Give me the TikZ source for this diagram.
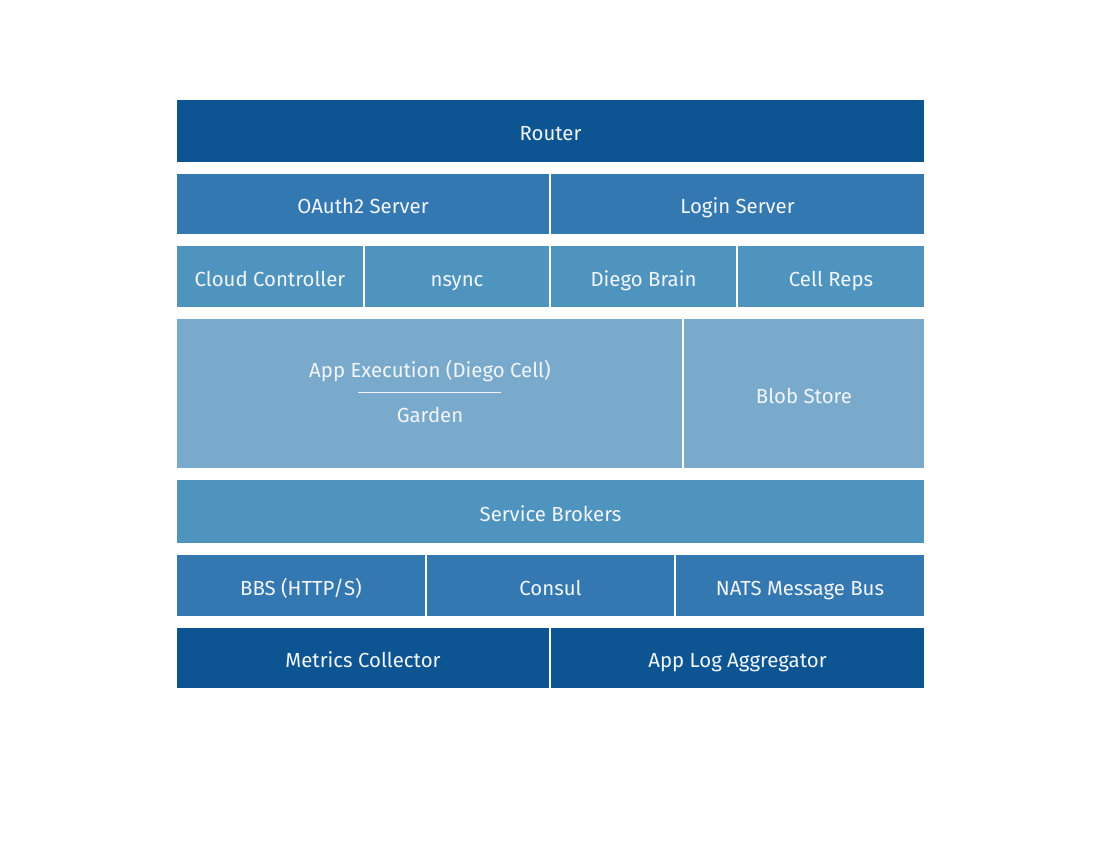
\documentclass[tikz,border=0pt]{standalone}
\usepackage{fontspec}
\setmainfont{Fira Sans}
\usetikzlibrary{positioning}

\definecolor{tierdark}{HTML}{0D5592}
\definecolor{tiermid}{HTML}{3478B1}
\definecolor{tierlight}{HTML}{4E94BE}
\definecolor{tierpale}{HTML}{79AACB}
\definecolor{labelwhite}{HTML}{F2F6FA}

\begin{document}
\begin{tikzpicture}[x=0.02cm, y=-0.02cm,
		block/.style = {rectangle, inner sep=0pt, text=labelwhite, font=\fontsize{11.6}{13}\selectfont,
			text height=11pt, text depth=0pt},
		dark/.style = {block, fill=tierdark},
		mid/.style = {block, fill=tiermid},
		light/.style = {block, fill=tierlight},
		pale/.style = {block, fill=tierpale}]
		\useasboundingbox[fill=white] (0,0) rectangle (1100,840);
		% top tier
		\node[dark, minimum width=14.94cm, minimum height=1.24cm] (router) at (550.5,131) {Router};
		\node[mid, minimum width=7.44cm, minimum height=1.2cm] (oauth) at (363,204) {OAuth2 Server};
		\node[mid, minimum width=7.46cm, minimum height=1.2cm] (login) at (737.5,204) {Login Server};
		% control
		\node[light, minimum width=3.72cm, minimum height=1.22cm] (cc) at (270,276.5) {Cloud Controller};
		\node[light, minimum width=3.68cm, minimum height=1.22cm] (nsync) at (457,276.5) {nsync};
		\node[light, minimum width=3.70cm, minimum height=1.22cm] (brain) at (643.5,276.5) {Diego Brain};
		\node[light, minimum width=3.72cm, minimum height=1.22cm] (reps) at (831,276.5) {Cell Reps};
		% execution
		\node[pale, minimum width=10.1cm, minimum height=2.98cm] (cell) at (429.5,393.5) {};
		\node[block] (appexec) at (430,368) {App Execution (Diego Cell)};
		\node[block] (garden) at (430,413) {Garden};
		\coordinate (divleft) at (358,392.5);
		\coordinate (divright) at (501,392.5);
		\draw[labelwhite, line width=0.6pt] (divleft) -- (divright);
		\node[pale, minimum width=4.8cm, minimum height=2.98cm] (blob) at (804,393.5) {Blob Store};
		\node[light, minimum width=14.94cm, minimum height=1.26cm] (brokers) at (550.5,511.5) {Service Brokers};
		% messaging
		\node[mid, minimum width=4.96cm, minimum height=1.22cm] (bbs) at (301,585.5) {BBS (HTTP/S)};
		\node[mid, minimum width=4.94cm, minimum height=1.22cm] (consul) at (550.5,585.5) {Consul};
		\node[mid, minimum width=4.96cm, minimum height=1.22cm] (nats) at (800,585.5) {NATS Message Bus};
		% logging
		\node[dark, minimum width=7.44cm, minimum height=1.2cm] (metrics) at (363,658) {Metrics Collector};
		\node[dark, minimum width=7.46cm, minimum height=1.2cm] (logs) at (737.5,658) {App Log Aggregator};
	\end{tikzpicture}
\end{document}
